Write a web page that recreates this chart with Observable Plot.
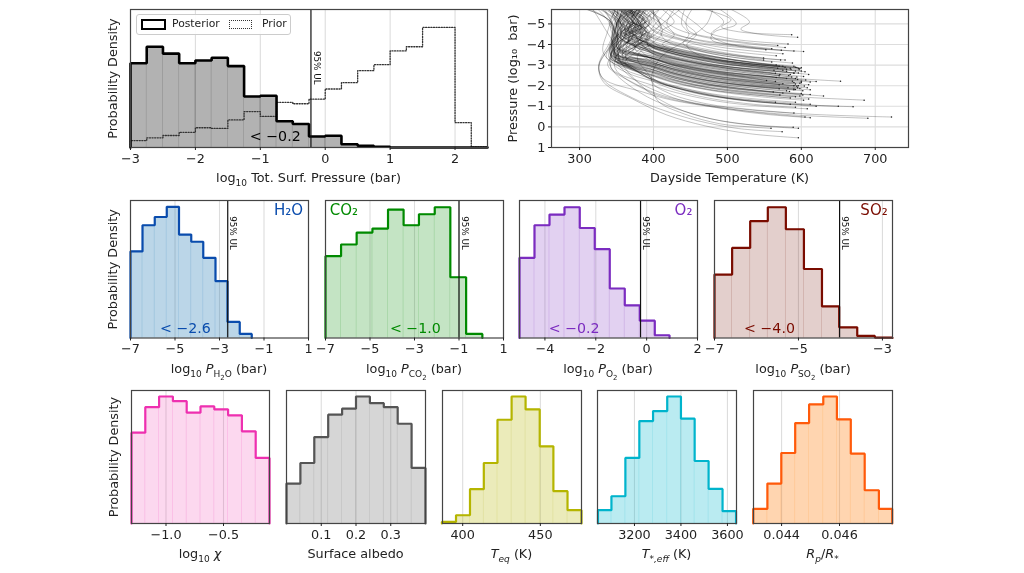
<!DOCTYPE html>
<html><head><meta charset="utf-8">
<script src="https://cdn.jsdelivr.net/npm/d3@7"></script>
<script src="https://cdn.jsdelivr.net/npm/@observablehq/plot@0.6"></script>
<style>
html,body{margin:0;padding:0;background:#fff;width:1024px;height:573px;overflow:hidden}
#fig{position:relative;width:1024px;height:573px;font-family:"DejaVu Sans",sans-serif;color:#222;filter:blur(.4px)}
#fig svg{position:absolute;overflow:visible;background:none}
.xl{position:absolute;font-size:12.8px;line-height:14px;white-space:nowrap;transform:translateX(-50%);color:#222}
.xl sub{font-size:9px;line-height:0}.xl sub sub{font-size:7px}
#legend{position:absolute;left:136px;top:14px;width:153px;height:19px;border:1px solid #ccc;border-radius:3px;background:rgba(255,255,255,.9);font-size:10.8px;color:#222}
#legend span{position:absolute;top:3px;line-height:12px}
#legend i{position:absolute;top:4px;height:7px;width:21px;box-sizing:content-box}
</style></head><body><div id="fig"></div>
<script>
// Total surface pressure
const pressureEdges=[-3,-2.75,-2.5,-2.25,-2,-1.75,-1.5,-1.25,-1,-.75,-.5,-.25,0,.25,.5,.75,1,1.25,1.5,1.75,2,2.25,2.5];
const posterior=[.61,.73,.68,.61,.63,.65,.59,.37,.375,.19,.17,.08,.085,.024,.012,.005,0,0,0,0,0,0];
const prior=[.05,.07,.087,.11,.143,.138,.2,.26,.225,.327,.317,.35,.424,.47,.557,.6,.70,.73,.87,.87,.18,.005];
// Gas abundances
const h2oEdges=[-7,-6.46,-5.91,-5.37,-4.82,-4.27,-3.73,-3.18,-2.64,-2.09,-1.55];
const h2o=[.63,.82,.88,.954,.752,.70,.583,.413,.117,.03];
const co2Edges=[-7,-6.3,-5.6,-4.89,-4.19,-3.49,-2.8,-2.09,-1.39,-.68,.05];
const co2=[.595,.68,.767,.796,.934,.82,.90,.951,.442,.03];
const o2Edges=[-5,-4.41,-3.82,-3.23,-2.63,-2.04,-1.45,-.86,-.27,.32,.9];
const o2=[.583,.82,.898,.951,.80,.646,.36,.238,.126,.02];
const so2Edges=[-7,-6.58,-6.15,-5.73,-5.3,-4.87,-4.44,-4.03,-3.6,-3.18,-2.76];
const so2=[.461,.655,.85,.951,.791,.502,.23,.078,.015,.003];
// Other parameters
const chiEdges=[-1.3,-1.18,-1.06,-.94,-.82,-.7,-.58,-.46,-.34,-.22,-.1];
const chi=[.683,.875,.955,.92,.833,.88,.858,.813,.693,.493];
const albedoEdges=[0,.04,.08,.12,.16,.2,.24,.28,.32,.36,.4];
const albedo=[.30,.455,.65,.818,.863,.955,.905,.875,.75,.418];
const teqEdges=[386.6,395.7,404.7,413.6,422.4,431.5,440.5,449.6,458.4,467.5,476.5];
const teq=[.012,.062,.258,.455,.78,.955,.858,.58,.243,.10];
const tstarEdges=[3043,3101,3161,3221,3280,3341,3400,3459,3519,3579,3637];
const tstar=[.10,.205,.493,.77,.845,.955,.788,.47,.26,.093];
const rpEdges=[.04302,.04351,.04399,.04447,.04495,.04544,.04591,.04639,.04687,.04736,.04782];
const rp=[.11,.30,.53,.755,.895,.955,.783,.525,.25,.11];
// Dayside temperature-pressure profiles: T,logP pairs, top of the atmosphere to the surface
const profiles=[
[470,-5.7,505,-5.2,492,-4.85,515,-4.62,550,-4.52,587,-4.48],
[505,-5.7,530,-5.1,518,-4.75,535,-4.55,565,-4.42,595,-4.35],
[432,-5.7,458,-5,472,-4.6,505,-4.28,545,-4.12,582,-4.03],
[420,-5.7,442,-5.1,448,-4.65,485,-4.3,530,-4.08,568,-3.95],
[392,-5.7,412,-5.2,432,-4.75,470,-4.35,530,-4.03,578,-3.85],
[400,-5.7,402,-5.1,420,-4.6,462,-4.22,520,-3.96,560,-3.8],
[378,-5.7,405,-5.15,425,-4.6,460,-4.2,510,-3.93,552,-3.75],
[490,-5.7,512,-5,482,-4.6,478,-4.25,535,-3.85,590,-3.68],
[475,-5.7,495,-5.1,478,-4.5,495,-4.1,550,-3.8,603,-3.66],
[365,-5.7,388,-5.2,405,-4.75,440,-4.25,505,-3.9,573,-3.72],
[370,-5.7,388,-5.1,402,-4.6,438,-4.2,485,-3.78,530,-3.57,566,-3.45],
[358,-5.7,384,-5.25,400,-4.7,432,-4.3,485,-3.9,535,-3.68,575,-3.55],
[372,-5.7,372,-5.1,398,-4.5,428,-4.12,478,-3.72,520,-3.47,549,-3.35],
[390,-5.7,398,-5.1,382,-4.6,402,-4.3,436,-4,482,-3.62,549,-3.25],
[352,-5.7,376,-5.2,378,-4.75,402,-4.35,432,-3.98,480,-3.65,535,-3.38,572,-3.25],
[412,-5.7,428,-5.1,410,-4.6,418,-4.15,450,-3.8,490,-3.55,540,-3.35,578,-3.25],
[362,-5.7,368,-5.1,385,-4.6,402,-4.25,434,-3.9,480,-3.55,530,-3.27,560,-3.15],
[442,-5.7,438,-5,448,-4.5,440,-4.05,462,-3.7,500,-3.42,550,-3.22,588,-3.1],
[345,-5.7,368,-5.05,372,-4.55,400,-4.15,432,-3.8,482,-3.42,530,-3.15,566,-3],
[380,-5.7,358,-5.1,376,-4.55,398,-4.12,430,-3.75,478,-3.4,532,-3.12,570,-2.95],
[368,-5.7,390,-5,372,-4.5,398,-4,436,-3.65,485,-3.3,540,-3.03,585,-2.85],
[398,-5.7,382,-4.95,395,-4.4,392,-4,430,-3.72,488,-3.35,542,-3.08,592,-2.9],
[356,-5.7,375,-4.9,365,-4.4,400,-4.05,430,-3.68,484,-3.28,542,-3.02,596,-2.85],
[384,-5.7,395,-5,372,-4.55,398,-3.98,432,-3.6,484,-3.22,540,-2.96,597,-2.78],
[346,-5.7,365,-5.1,366,-4.55,400,-3.95,428,-3.62,480,-3.25,535,-2.98,580,-2.8],
[372,-5.7,355,-5.1,372,-4.5,396,-3.92,430,-3.58,480,-3.2,532,-2.93,575,-2.75],
[428,-5.7,418,-5,428,-4.45,412,-4,440,-3.65,485,-3.3,530,-3.03,568,-2.85],
[360,-5.7,384,-4.95,362,-4.45,398,-3.9,428,-3.55,478,-3.18,525,-2.93,563,-2.75],
[338,-5.7,360,-5.1,356,-4.5,398,-3.85,432,-3.5,484,-3.12,545,-2.88,605,-2.68],
[390,-5.7,372,-4.9,388,-4.35,396,-3.75,432,-3.38,486,-3,550,-2.76,610,-2.55],
[452,-5.7,444,-5.05,458,-4.5,445,-3.98,455,-3.6,490,-3.2,545,-2.93,600,-2.72],
[364,-5.7,352,-4.95,368,-4.35,396,-3.75,428,-3.42,480,-3.03,540,-2.78,590,-2.6],
[352,-5.7,372,-5,352,-4.45,394,-3.72,424,-3.38,474,-3,525,-2.75,571,-2.55],
[376,-5.7,386,-4.85,356,-4.3,396,-3.68,428,-3.32,480,-2.95,535,-2.7,583,-2.5],
[335,-5.7,355,-5.1,352,-4.45,396,-3.6,430,-3.25,482,-2.87,540,-2.62,587,-2.42],
[350,-5.7,340,-5,356,-4.3,350,-3.9,400,-3.4,432,-3.05,480,-2.7,553,-2.25],
[408,-5.7,378,-4.9,378,-4.25,398,-3.6,428,-3.22,478,-2.85,530,-2.6,566,-2.4],
[368,-5.7,384,-4.8,360,-4.2,352,-3.8,398,-3.45,432,-3.1,485,-2.72,545,-2.47,595,-2.3],
[394,-5.7,408,-4.95,382,-4.3,396,-3.62,432,-3.27,484,-2.88,550,-2.63,603,-2.45],
[358,-5.7,352,-4.9,352,-4.2,356,-3.7,398,-3.42,432,-3.08,485,-2.7,550,-2.45,606,-2.28],
[345,-5.7,364,-5,350,-4.3,352,-3.75,398,-3.33,432,-2.98,488,-2.6,552,-2.35,612,-2.18],
[382,-5.7,368,-4.7,366,-4.1,360,-3.7,398,-3.35,436,-3,490,-2.62,560,-2.38,620,-2.2],
[420,-5.7,398,-4.8,386,-4.15,372,-3.65,402,-3.32,440,-2.98,500,-2.62,580,-2.38,653,-2.22],
[352,-5.7,376,-4.95,345,-4.25,350,-3.7,398,-3.35,430,-3,485,-2.65,545,-2.4,600,-2.22],
[328,-5.7,350,-5.05,344,-4.2,350,-3.55,400,-3.25,432,-2.92,480,-2.58,540,-2.32,590,-2.15],
[372,-5.7,356,-4.8,356,-4.05,356,-3.55,396,-3.22,428,-2.88,476,-2.52,530,-2.27,575,-2.1],
[362,-5.7,348,-4.8,352,-4.1,346,-3.55,394,-3.18,426,-2.82,472,-2.47,525,-2.22,570,-2.05],
[398,-5.7,410,-4.8,384,-4.1,366,-3.65,396,-3.35,426,-3,472,-2.65,525,-2.38,565,-2.2],
[345,-5.7,364,-4.9,354,-4,346,-3.45,398,-3.1,432,-2.75,485,-2.38,550,-2.12,604,-1.98],
[378,-5.7,360,-4.6,368,-3.95,352,-3.5,398,-3.2,432,-2.85,488,-2.45,552,-2.2,610,-2.05],
[356,-5.7,342,-4.85,350,-4,342,-3.5,396,-3.13,430,-2.78,482,-2.4,545,-2.15,596,-2],
[368,-5.7,382,-4.7,346,-4,340,-3.35,398,-2.95,432,-2.58,488,-2.2,552,-1.96,612,-1.8],
[350,-5.7,356,-4.75,340,-3.9,346,-3.4,398,-3.05,432,-2.7,488,-2.3,550,-2.05,608,-1.9],
[315,-5.7,342,-5.1,348,-4.2,344,-3.4,396,-2.95,430,-2.58,480,-2.2,540,-1.95,590,-1.8],
[338,-5.7,358,-4.85,346,-3.85,342,-3.3,396,-2.9,426,-2.55,476,-2.15,532,-1.9,580,-1.75],
[390,-5.7,376,-4.6,358,-3.85,352,-3.4,394,-3,424,-2.65,472,-2.27,528,-2,570,-1.85],
[352,-5.7,350,-4.6,354,-3.7,348,-3.25,392,-2.85,422,-2.5,468,-2.12,520,-1.87,562,-1.7],
[408,-5.7,388,-4.75,376,-3.9,358,-3.2,396,-2.8,426,-2.45,474,-2.07,532,-1.8,575,-1.65],
[362,-5.7,345,-4.7,344,-3.7,346,-3.2,398,-2.78,430,-2.42,484,-2.03,545,-1.77,600,-1.62],
[368,-5.7,385,-4.5,362,-3.7,352,-3.1,400,-2.65,436,-2.3,495,-1.92,565,-1.68,630,-1.5],
[342,-5.7,354,-4.75,340,-3.7,350,-3.15,398,-2.72,432,-2.35,488,-1.97,550,-1.72,612,-1.57],
[378,-5.7,350,-4.5,352,-3.6,356,-3.1,398,-2.65,430,-2.28,484,-1.9,545,-1.65,598,-1.5],
[356,-5.7,372,-4.4,342,-3.5,358,-3,396,-2.55,426,-2.18,476,-1.8,535,-1.56,585,-1.4],
[436,-5.7,404,-4.75,382,-3.8,362,-3.15,396,-2.68,424,-2.33,470,-1.95,525,-1.7,571,-1.55],
[400,-5.7,374,-4.4,350,-3.5,372,-2.85,406,-2.45,445,-2.1,510,-1.7,590,-1.47,685,-1.3],
[332,-5.7,346,-4.85,346,-3.55,360,-2.95,398,-2.5,432,-2.15,488,-1.75,552,-1.5,610,-1.35],
[376,-5.7,362,-4.3,358,-3.45,366,-2.9,400,-2.45,432,-2.1,486,-1.72,548,-1.45,603,-1.3],
[348,-5.7,338,-4.65,332,-3.6,360,-2.8,396,-2.35,428,-2,480,-1.6,540,-1.35,592,-1.2],
[310,-5.7,342,-5.1,344,-4.1,345,-3.1,366,-2.6,396,-2.25,426,-1.95,470,-1.55,520,-1.33,565,-1.2],
[358,-5.7,346,-4.35,350,-3.4,375,-2.75,402,-2.25,436,-1.9,490,-1.5,552,-1.25,612,-1.1],
[366,-5.7,384,-4.2,346,-3.3,376,-2.75,400,-2.25,430,-1.88,476,-1.5,530,-1.25,585,-1.1],
[388,-5.7,366,-4.2,364,-3.2,388,-2.6,410,-2.15,442,-1.8,498,-1.4,560,-1.15,620,-1],
[346,-5.7,356,-4.55,336,-3.4,382,-2.6,408,-2.15,445,-1.78,505,-1.38,575,-1.13,650,-1],
[372,-5.7,348,-4.3,352,-3.25,392,-2.5,412,-2.1,452,-1.72,515,-1.32,590,-1.1,670,-.98],
[334,-5.7,348,-4.7,348,-3.6,382,-2.6,406,-2.1,436,-1.72,482,-1.35,535,-1.1,592,-.95],
[352,-5.7,344,-4.45,342,-3.4,344,-2.8,396,-2.05,430,-1.67,490,-1.23,550,-1,608,-.88],
[480,-5.7,472,-5,448,-4.3,408,-3.3,398,-2.2,420,-1.65,472,-1.12,530,-.85,590,-.67],
[318,-5.7,332,-4.9,348,-3.75,338,-3,375,-2.1,410,-1.55,484,-.98,545,-.68,605,-.48],
[382,-5.7,360,-4.35,348,-3.35,372,-2.35,410,-1.65,442,-1.25,500,-.85,555,-.6,612,-.45],
[340,-5.7,352,-4.6,326,-3,332,-2.35,385,-1.7,425,-1.3,500,-.88,590,-.58,690,-.42],
[310,-5.7,342,-5.1,352,-3.85,348,-2.85,392,-1.75,430,-1.3,510,-.9,610,-.62,722,-.48],
[330,-5.7,362,-4.7,352,-3.5,385,-1.95,420,-1.1,465,-.5,525,-.13,589,.02],
[344,-5.7,352,-4.35,340,-3.2,348,-2.6,392,-1.45,438,-.8,490,-.3,545,-.05,596,.07],
[396,-5.7,412,-4.6,378,-3.4,396,-2.4,405,-1.3,440,-.65,490,-.15,530,0,559,.07],
[358,-5.7,342,-4.2,326,-3,332,-2.3,372,-1.4,410,-.85,460,-.3,515,.08,574,.23],
[325,-5.7,347,-4.55,326,-2.9,333,-2.15,372,-1.35,418,-.58,470,-.05,530,.33,596,.53],
[354,-5.7,372,-5.05,356,-4.55,374,-4,402,-3.65,436,-3.3,484,-2.93,530,-2.68,570,-2.48],
[376,-5.7,364,-5.15,382,-4.5,362,-4,398,-3.5,430,-3.15,480,-2.78,535,-2.52,580,-2.35],
[364,-5.7,388,-5.25,366,-4.7,390,-4.15,402,-3.78,436,-3.42,484,-3.03,530,-2.78,565,-2.6],
[382,-5.7,358,-5.25,376,-4.8,354,-4.25,400,-3.85,432,-3.52,482,-3.12,535,-2.87,580,-2.7],
[358,-5.7,380,-5.05,394,-4.6,392,-4.15,436,-3.78,482,-3.42,530,-3.15,575,-2.95],
[368,-5.7,356,-5.05,364,-4.5,350,-3.9,398,-3.35,430,-2.98,485,-2.6,545,-2.33,600,-2.15],
[394,-5.7,378,-5.15,392,-4.55,390,-4.1,436,-3.72,484,-3.4,540,-3.12,590,-2.95],
[362,-5.7,378,-5.25,390,-4.6,374,-3.9,396,-3.2,430,-2.82,484,-2.45,542,-2.18,590,-2],
[378,-5.7,394,-5.05,376,-4.4,354,-3.75,396,-3.08,430,-2.72,484,-2.35,545,-2.07,595,-1.9],
[366,-5.7,386,-5.3,364,-4.8,388,-4.4,372,-4,402,-3.55,436,-3.25,484,-2.92,540,-2.7,585,-2.55],
[384,-5.7,370,-5.2,388,-4.7,366,-4.3,384,-3.95,404,-3.62,436,-3.3,486,-2.98,545,-2.77,590,-2.62],
[372,-5.7,390,-5.1,368,-4.65,386,-4.2,366,-3.75,400,-3.3,432,-2.95,484,-2.6,540,-2.38,588,-2.22],
[360,-5.7,382,-5.2,362,-4.6,380,-4.05,358,-3.5,398,-3,430,-2.65,480,-2.3,535,-2.05,582,-1.9],
[388,-5.7,374,-5.05,356,-4.5,376,-3.9,362,-3.4,398,-2.92,430,-2.55,482,-2.2,540,-1.97,592,-1.82],
[374,-5.7,360,-5.3,380,-4.85,356,-4.35,378,-3.85,398,-3.25,432,-2.88,484,-2.52,540,-2.27,598,-2.12],
[392,-5.7,366,-5.2,392,-4.7,374,-4.15,392,-3.7,404,-3.45,440,-3.1,490,-2.78,548,-2.55,594,-2.42],
[380,-5.7,396,-5.25,378,-4.85,398,-4.4,380,-3.95,406,-3.75,440,-3.42,490,-3.08,545,-2.88,592,-2.72],
[370,-5.7,352,-5.2,372,-4.75,392,-4.35,384,-4.1,408,-3.85,442,-3.52,492,-3.2,548,-2.98,598,-2.83],
[376,-5.7,392,-5.2,372,-4.7,394,-4.3,406,-3.95,438,-3.6,488,-3.25,545,-3.03,594,-2.88],
[364,-5.7,380,-5.1,368,-4.55,386,-4.15,402,-3.8,434,-3.5,486,-3.17,540,-2.95,586,-2.8],
[386,-5.7,372,-5.15,390,-4.65,378,-4.2,404,-3.88,438,-3.55,490,-3.22,550,-3,600,-2.87],
[356,-5.7,374,-5.25,356,-4.7,380,-4.25,400,-3.92,432,-3.6,482,-3.28,535,-3.05,578,-2.9],
[378,-5.7,388,-5,366,-4.4,372,-3.95,398,-3.62,430,-3.3,484,-2.97,545,-2.75,596,-2.62],
[368,-5.7,350,-5,372,-4.4,356,-3.9,384,-3.5,420,-3.1,480,-2.72,540,-2.5,592,-2.35],
[382,-5.7,360,-4.9,378,-4.3,358,-3.65,392,-3.2,424,-2.85,480,-2.48,540,-2.22,592,-2.08],
[358,-5.7,376,-4.8,354,-4.15,346,-3.6,394,-3.1,428,-2.75,482,-2.37,542,-2.12,594,-1.97],
[372,-5.7,352,-4.85,366,-4.2,350,-3.6,396,-3.02,430,-2.66,484,-2.27,545,-2.02,598,-1.87],
[350,-5.7,368,-4.85,344,-4.1,350,-3.5,396,-2.96,428,-2.6,480,-2.22,540,-1.97,590,-1.84],
[384,-5.7,366,-4.75,372,-4.1,352,-3.55,396,-2.9,430,-2.53,484,-2.15,548,-1.9,602,-1.76],
[366,-5.7,348,-4.7,356,-3.95,346,-3.4,394,-2.86,426,-2.5,478,-2.12,535,-1.88,584,-1.72],
[378,-5.7,358,-4.6,348,-3.85,350,-3.3,398,-2.7,432,-2.33,486,-1.95,548,-1.7,602,-1.55],
[344,-5.7,362,-4.7,342,-3.9,354,-3.2,396,-2.62,428,-2.26,480,-1.87,540,-1.62,592,-1.47]
];
const profileEnds=profiles.map(p=>[p[p.length-2],p[p.length-1]]);
const profileRows=profiles.flatMap((p,i)=>d3.range(0,p.length,2).map(j=>({id:i,T:p[j],P:p[j+1]})));

const fig=document.getElementById("fig");
const F='"DejaVu Sans",sans-serif';
const TS=12.8;
const M={l:30,r:14,t:6,b:24};
function place(svg,x0,y0){svg.style.left=(x0-M.l)+"px";svg.style.top=(y0-M.t)+"px";fig.appendChild(svg);}
function xlabel(html,cx,y){const d=document.createElement("div");d.className="xl";d.innerHTML=html;d.style.left=cx+"px";d.style.top=y+"px";fig.appendChild(d);}
function table(edges,vals){return vals.map((v,i)=>({x1:edges[i],x2:edges[i+1],v}));}
function steps(edges,vals){return [{x:edges[0],v:0},...vals.map((v,i)=>({x:edges[i],v})),{x:edges[edges.length-1],v:0}];}
function hist(o){
  const {x0,x1,y0,y1,domain,edges,vals,color,fill,op,ticks,fmt}=o;
  const marks=[
    Plot.ruleX(ticks,{stroke:"#ddd",strokeWidth:1.1}),
    Plot.rectY(table(edges,vals),{x1:"x1",x2:"x2",y:"v",fill,fillOpacity:op,stroke:fill,strokeOpacity:.1,strokeWidth:.8,inset:0}),
    ...(o.extra||[]),
    Plot.line(steps(edges,vals),{x:"x",y:"v",curve:"step-after",stroke:color,strokeWidth:o.sw||2.2,strokeLinejoin:"miter"}),
    ...(o.ul!=null?[
      Plot.ruleX([o.ul],{stroke:"#111",strokeWidth:1.2}),
      Plot.text(["95% UL"],{x:()=>o.ul,y:()=>o.ulY,rotate:90,textAnchor:"start",dx:o.ulDx||5.5,fontSize:8.8,fill:"#111",fontFamily:F})
    ]:[]),
    ...(o.val?[Plot.text([o.val],{x:()=>o.valX,y:()=>o.valY||.07,fill:color,fontSize:14.2,fontFamily:F})]:[]),
    ...(o.name?[Plot.text([o.name],{x:()=>o.nameX,y:()=>.927,fill:color,fontSize:15,fontFamily:F})]:[]),
    Plot.frame({stroke:"#444",strokeWidth:1.2}),
    Plot.axisX({ticks,tickFormat:fmt,tickSize:3,tickPadding:3,fontSize:TS,label:null,fontFamily:F,stroke:"#222",fill:"#222"}),
    Plot.axisY({ticks:[],label:null}),
    ...(o.ylabel?[Plot.text(["Probability Density"],{frameAnchor:"left",textAnchor:"middle",rotate:-90,dx:-18,fontSize:12.8,fill:"#222",fontFamily:F})]:[])
  ];
  const svg=Plot.plot({width:x1-x0+M.l+M.r,height:y1-y0+M.t+M.b,marginLeft:M.l,marginRight:M.r,marginTop:M.t,marginBottom:M.b,
    style:{background:"none",fontFamily:F},
    x:{domain,label:null},y:{domain:[0,1],label:null},marks});
  place(svg,x0,y0);
  xlabel(o.label,(x0+x1)/2,o.labelY);
}
const lf=d=>d3.format("d")(d);
// Row 1, left
hist({x0:130,x1:487,y0:9,y1:147,domain:[-3,2.5],edges:pressureEdges,vals:posterior,color:"#000",fill:"#000",op:.3,sw:2.6,
  ticks:[-3,-2,-1,0,1,2],fmt:lf,ul:-.22,ulY:.70,ulDx:6,val:"< −0.2",valX:-.77,valY:.08,ylabel:true,
  label:'log<sub>10</sub> Tot. Surf. Pressure (bar)',labelY:171,
  extra:[Plot.line(steps(pressureEdges,prior),{x:"x",y:"v",curve:"step-after",stroke:"#333",strokeWidth:1.3,strokeDasharray:"1.1,1.5"})]});
const leg=document.createElement("div");leg.id="legend";
leg.innerHTML='<i style="left:4px;border:2.6px solid #000;background:#fff"></i><span style="left:35px">Posterior</span><i style="left:92px;border:1.3px dotted #333;top:5px"></i><span style="left:125px">Prior</span>';
fig.appendChild(leg);
// Row 1, right
{
  const x0=551,x1=908,y0=9,y1=147;
  const svg=Plot.plot({width:x1-x0+M.l+M.r,height:y1-y0+M.t+M.b,marginLeft:M.l,marginRight:M.r,marginTop:M.t,marginBottom:M.b,
    style:{background:"none",fontFamily:F},
    x:{domain:[262,745],label:null},y:{domain:[1,-5.7],label:null},
    marks:[
      Plot.ruleX([300,400,500,600,700],{stroke:"#ddd",strokeWidth:1.1}),
      Plot.ruleY([-5,-4,-3,-2,-1,0,1],{stroke:"#ddd",strokeWidth:1.1}),
      Plot.line(profileRows,{x:"T",y:"P",z:"id",curve:"catmull-rom",stroke:"#000",strokeOpacity:.28,strokeWidth:.85,clip:true}),
      Plot.dot(profileEnds,{x:d=>d[0],y:d=>d[1],r:.75,fill:"#222",stroke:"none"}),
      Plot.frame({stroke:"#444",strokeWidth:1.2}),
      Plot.axisX({ticks:[300,400,500,600,700],tickFormat:lf,tickSize:3,tickPadding:3,fontSize:TS,label:null,fontFamily:F}),
      Plot.axisY({ticks:[-5,-4,-3,-2,-1,0,1],tickFormat:lf,tickSize:3,tickPadding:3,fontSize:TS,label:null,fontFamily:F}),
      Plot.text(["Pressure (log₁₀  bar)"],{frameAnchor:"left",textAnchor:"middle",rotate:-90,dx:-39,fontSize:12.8,fill:"#222",fontFamily:F})
    ]});
  place(svg,x0,y0);
  xlabel('Dayside Temperature (K)',(x0+x1)/2,171);
}
// Row 2
const r2={y0:199.5,y1:337,labelY:362};
hist({...r2,x0:130,x1:308,domain:[-7,1],edges:h2oEdges,vals:h2o,color:"#0a4cad",fill:"#1f77b4",op:.3,ticks:[-7,-5,-3,-1,1],fmt:lf,ul:-2.63,ulY:.886,val:"< −2.6",valX:-4.53,name:"H₂O",nameX:.1,ylabel:true,label:'log<sub>10</sub> <i>P</i><sub>H<sub>2</sub>O</sub> (bar)'});
hist({...r2,x0:325,x1:503,domain:[-7,1],edges:co2Edges,vals:co2,color:"#008a00",fill:"#008a00",op:.23,ticks:[-7,-5,-3,-1,1],fmt:lf,ul:-1,ulY:.886,val:"< −1.0",valX:-2.96,name:"CO₂",nameX:-6.17,label:'log<sub>10</sub> <i>P</i><sub>CO<sub>2</sub></sub> (bar)'});
hist({...r2,x0:519,x1:697,domain:[-5,2],edges:o2Edges,vals:o2,color:"#7b2cc0",fill:"#7b2fbe",op:.22,ticks:[-4,-2,0,2],fmt:lf,ul:-.24,ulY:.886,val:"< −0.2",valX:-2.85,name:"O₂",nameX:1.45,label:'log<sub>10</sub> <i>P</i><sub>O<sub>2</sub></sub> (bar)'});
hist({...r2,x0:714,x1:892,domain:[-7,-2.76],edges:so2Edges,vals:so2,color:"#7a0c00",fill:"#7a1a10",op:.21,ticks:[-7,-5,-3],fmt:lf,ul:-4.02,ulY:.886,val:"< −4.0",valX:-5.69,name:"SO₂",nameX:-3.2,label:'log<sub>10</sub> <i>P</i><sub>SO<sub>2</sub></sub> (bar)'});
// Row 3
const r3={y0:390,y1:523,labelY:547};
hist({...r3,x0:131,x1:269,domain:[-1.3,-.1],edges:chiEdges,vals:chi,color:"#ee30b0",fill:"#ee3bb0",op:.2,ticks:[-1,-.5],fmt:d3.format(".1f"),ylabel:true,label:'log<sub>10</sub> <i>χ</i>'});
hist({...r3,x0:286,x1:425,domain:[0,.4],edges:albedoEdges,vals:albedo,color:"#555",fill:"#666",op:.27,ticks:[.1,.2,.3],fmt:d3.format(".1f"),label:'Surface albedo'});
hist({...r3,x0:442,x1:581,domain:[387,476.5],edges:teqEdges,vals:teq,color:"#b5b500",fill:"#b5b500",op:.27,ticks:[400,450],fmt:lf,label:'<i>T<sub>eq</sub></i> (K)'});
hist({...r3,x0:597,x1:736,domain:[3041,3639],edges:tstarEdges,vals:tstar,color:"#00b4cc",fill:"#00b5cc",op:.27,ticks:[3200,3400,3600],fmt:lf,label:'<i>T<sub>*,eff</sub></i> (K)'});
hist({...r3,x0:753,x1:892,domain:[.04303,.04783],edges:rpEdges,vals:rp,color:"#ff5a0a",fill:"#ff7f0e",op:.33,ticks:[.044,.046],fmt:d3.format(".3f"),label:'<i>R<sub>p</sub></i>/<i>R<sub>*</sub></i>'});
</script></body></html>
